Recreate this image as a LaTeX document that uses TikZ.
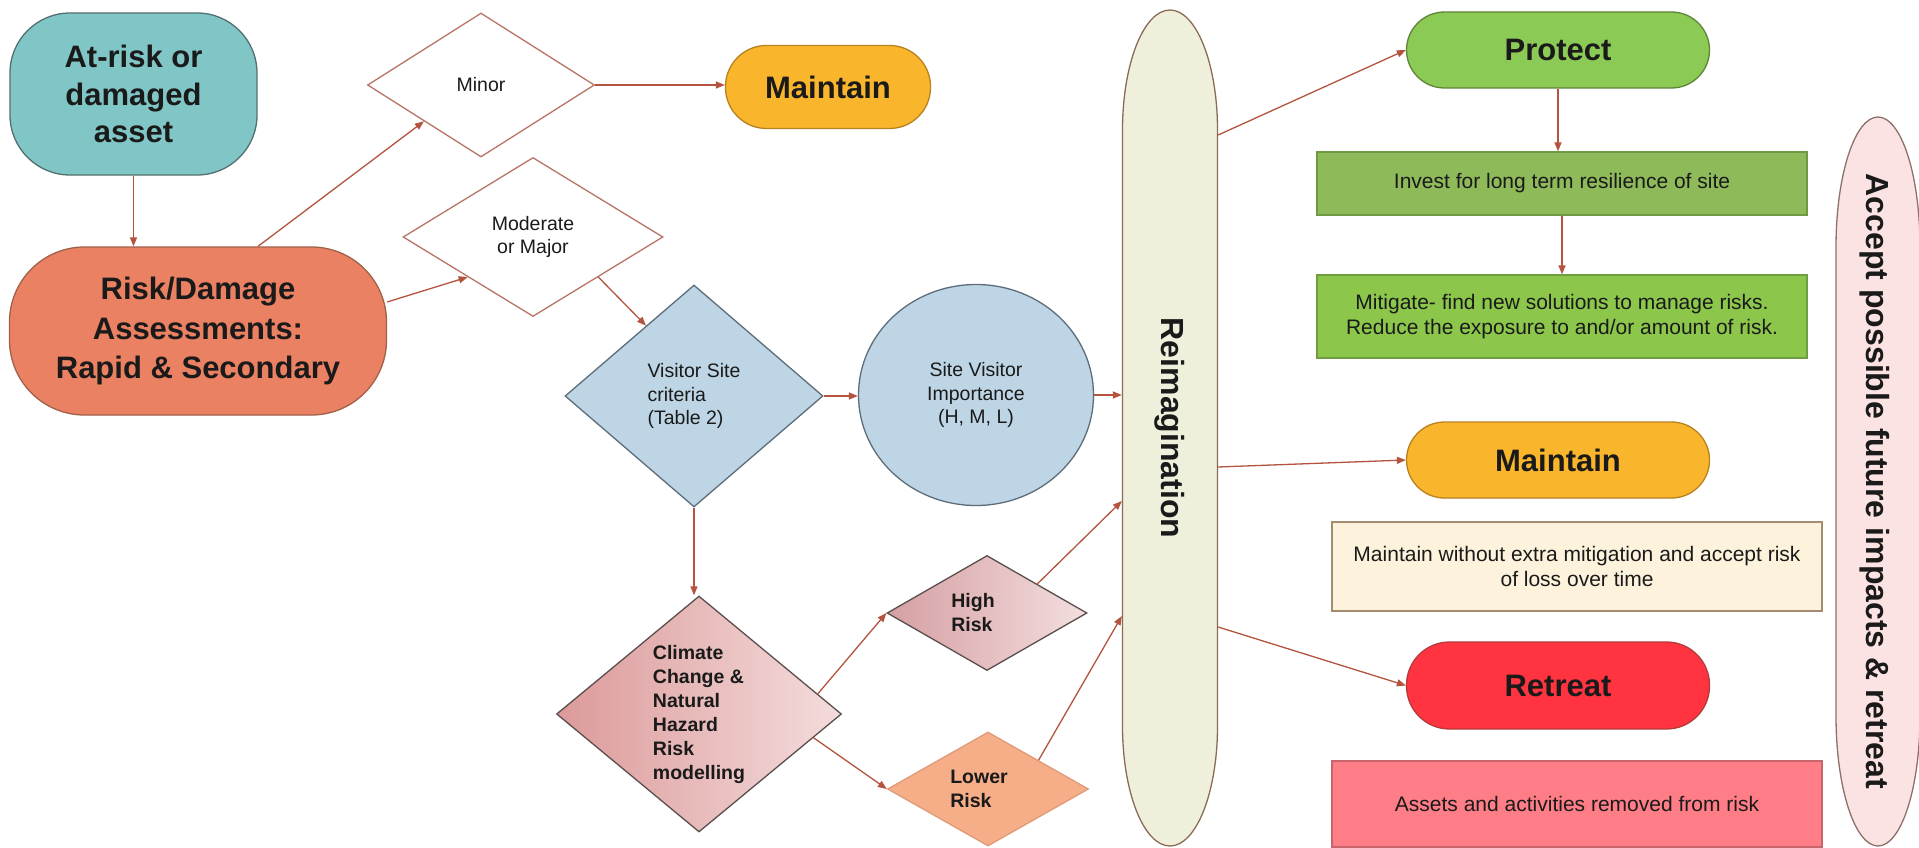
\documentclass[tikz,border=0pt]{standalone}
\usepackage{fontspec}
\setmainfont{Liberation Sans}
\usepackage{graphicx}
\usetikzlibrary{shapes.geometric,arrows.meta,calc}

\definecolor{arrowc}{HTML}{B4543E}
\definecolor{txt}{HTML}{1A1A1A}
\definecolor{cAsset}{HTML}{80C6C7}\definecolor{bAsset}{HTML}{52706F}
\definecolor{cRisk}{HTML}{EB8163}\definecolor{bRisk}{HTML}{A0604A}
\definecolor{bDia}{HTML}{B87565}
\definecolor{cMaint}{HTML}{F9B52B}\definecolor{bMaint}{HTML}{B78220}
\definecolor{cBlue}{HTML}{BDD5E4}\definecolor{bBlue}{HTML}{5D6D7A}
\definecolor{cClimL}{HTML}{DC9A9A}\definecolor{cClimR}{HTML}{F4DCDC}\definecolor{bClim}{HTML}{5A4E4E}
\definecolor{cHighL}{HTML}{D59FA3}\definecolor{cHighR}{HTML}{F3DEDE}
\definecolor{cLower}{HTML}{F5AE88}\definecolor{bLower}{HTML}{E09A78}
\definecolor{cReim}{HTML}{EEF0DB}\definecolor{bReim}{HTML}{8A6C55}
\definecolor{cProt}{HTML}{8CCA56}\definecolor{bProt}{HTML}{5F8438}
\definecolor{cInv}{HTML}{8FBA59}\definecolor{bInv}{HTML}{6F9A44}
\definecolor{cMit}{HTML}{8CC74C}\definecolor{bMit}{HTML}{6F9E40}
\definecolor{cKeep}{HTML}{FDF2DB}\definecolor{bKeep}{HTML}{A48C70}
\definecolor{cRet}{HTML}{FF3440}\definecolor{bRet}{HTML}{B53A3A}
\definecolor{cAss}{HTML}{FF7D86}\definecolor{bAss}{HTML}{C6656B}
\definecolor{cAcc}{HTML}{FCE3E3}\definecolor{bAcc}{HTML}{8E706A}

\newcommand{\bigbf}{\fontsize{31}{38}\selectfont\bfseries}
\newcommand{\smallrm}{\fontsize{19.5}{23.5}\selectfont}
\newcommand{\smallbf}{\fontsize{19.5}{24}\selectfont\bfseries}
\newcommand{\boxrm}{\fontsize{21}{25}\selectfont}
\newcommand{\sidebf}{\fontsize{32}{38}\selectfont\bfseries}

\tikzset{
  base/.style={inner sep=0pt, align=center, text=txt, line width=1.3pt},
  rbox/.style={base, rectangle, draw, font=\bigbf},
  dia/.style={base, diamond, draw},
  plainbox/.style={base, rectangle, draw, font=\boxrm},
  sideshape/.style={line width=1.3pt},
  arr/.style={draw=arrowc, line width=1.3pt, -{Triangle[length=9pt,width=7pt]}},
}

\begin{document}
\begin{tikzpicture}[x=1pt,y=1pt]
\useasboundingbox (0,0) rectangle (1919,-848);
\fill[white] (0,0) rectangle (1919,-848);

% left column
\node[rbox, fill=cAsset, draw=bAsset, rounded corners=60pt, minimum width=247pt, minimum height=162pt, font=\fontsize{31}{37.5}\selectfont\bfseries] (asset) at (133.5,-94) {At-risk or\\damaged\\asset};
\node[rbox, fill=cRisk, draw=bRisk, rounded corners=75pt, minimum width=377pt, minimum height=168pt, font=\fontsize{31}{39.5}\selectfont\bfseries] (risk) at (198,-331) {Risk/Damage\\Assessments:\\Rapid \& Secondary};

% decision diamonds
\node[dia, fill=white, draw=bDia, font=\smallrm, minimum width=227pt, minimum height=144pt, aspect=1.58] (minor) at (481,-85) {Minor};
\node[dia, fill=white, draw=bDia, font=\smallrm, minimum width=260pt, minimum height=159pt, aspect=1.64] (moderate) at (533,-237) {Moderate\\or Major};
\node[rbox, fill=cMaint, draw=bMaint, rounded corners=41pt, minimum width=205pt, minimum height=83pt] (maintA) at (828,-87) {Maintain};

\node[dia, fill=cBlue, draw=bBlue, font=\smallrm, align=left, minimum width=258pt, minimum height=222pt, aspect=1.16] (visitor) at (694,-396) {Visitor Site\\criteria\\(Table 2)};
\node[base, ellipse, fill=cBlue, draw=bBlue, font=\smallrm, minimum width=235pt, minimum height=221pt] (imp) at (976,-395) {Site Visitor\\Importance\\(H, M, L)};

\node[dia, left color=cClimL, right color=cClimR, draw=bClim, font=\smallbf, align=left, minimum width=285pt, minimum height=236pt, aspect=1.21] (climate) at (699,-714) {Climate\\Change \&\hspace*{8pt}\\Natural\\Hazard\\Risk\\modelling};
\node[dia, left color=cHighL, right color=cHighR, draw=bClim, font=\smallbf, align=left, minimum width=200pt, minimum height=115pt, aspect=1.74] (high) at (987,-613) {High\hspace*{28pt}\\Risk};
\node[dia, fill=cLower, draw=bLower, font=\smallbf, align=left, minimum width=201pt, minimum height=114pt, aspect=1.76] (lower) at (988,-789) {Lower\hspace*{18pt}\\Risk};

% Reimagination
\path[sideshape, draw=bReim, fill=cReim] (1170,-10) arc[start angle=90,end angle=180,x radius=47.5,y radius=120] -- (1122.5,-726) arc[start angle=180,end angle=360,x radius=47.5,y radius=120] -- (1217.5,-130) arc[start angle=0,end angle=90,x radius=47.5,y radius=120] -- cycle;
\node[base, minimum width=95pt, minimum height=836pt, font=\sidebf] (reim) at (1170,-428) {\rotatebox{-90}{Reimagination}};

% right column
\node[rbox, fill=cProt, draw=bProt, rounded corners=38pt, minimum width=303pt, minimum height=76pt] (protect) at (1558,-50) {Protect};
\node[plainbox, fill=cInv, draw=bInv, minimum width=490pt, minimum height=63pt] (invest) at (1562,-183.5) {Invest for long term resilience of site};
\node[plainbox, fill=cMit, draw=bMit, minimum width=490pt, minimum height=83pt] (mitigate) at (1562,-316.5) {Mitigate- find new solutions to manage risks.\\Reduce the exposure to and/or amount of risk.};
\node[rbox, fill=cMaint, draw=bMaint, rounded corners=38pt, minimum width=303pt, minimum height=76pt] (maintB) at (1558,-460) {Maintain};
\node[plainbox, fill=cKeep, draw=bKeep, minimum width=490pt, minimum height=89pt] (keep) at (1577,-566.5) {Maintain without extra mitigation and accept risk\\of loss over time};
\node[rbox, fill=cRet, draw=bRet, rounded corners=43pt, minimum width=303pt, minimum height=87pt] (retreat) at (1558,-685.5) {Retreat};
\node[plainbox, fill=cAss, draw=bAss, minimum width=490pt, minimum height=86pt] (assets) at (1577,-804) {Assets and activities removed from risk};

% Accept possible future impacts
\path[sideshape, draw=bAcc, fill=cAcc] (1878,-117) arc[start angle=90,end angle=180,x radius=42,y radius=130] -- (1836,-716) arc[start angle=180,end angle=360,x radius=42,y radius=130] -- (1920,-247) arc[start angle=0,end angle=90,x radius=42,y radius=130] -- cycle;
\node[base, minimum width=84pt, minimum height=729pt, font=\sidebf] (accept) at (1875,-481.5) {\rotatebox{-90}{Accept possible future impacts \& retreat}};

% connectors
\draw[arr] (asset.south) -- (asset.south |- risk.north);
\draw[arr] ([xshift=60pt]risk.north) -- (minor.south west);
\draw[arr] ([yshift=29pt]risk.east) -- (moderate.south west);
\draw[arr] (minor.east) -- (minor.east -| maintA.west);
\draw[arr] (moderate.south east) -- ($(visitor.north)!0.37!(visitor.west)$);
\draw[arr] (visitor.east) -- (visitor.east -| imp.west);
\draw[arr] (imp.east) -- (imp.east -| reim.west);
\draw[arr] (visitor.south) -- (visitor.south |- climate.north);
\draw[arr] ($(climate.north)!0.83!(climate.east)$) -- (high.west);
\draw[arr] ($(climate.east)!0.2!(climate.south)$) -- (lower.west);
\draw[arr] (high.north east) -- ([yshift=-73pt]reim.west);
\draw[arr] (lower.north east) -- ([yshift=-188pt]reim.west);
\draw[arr] ([yshift=293pt]reim.east) -- (protect.west);
\draw[arr] ([yshift=-39pt]reim.east) -- (maintB.west);
\draw[arr] ([yshift=-199pt]reim.east) -- (retreat.west);
\draw[arr] (protect.south) -- (protect.south |- invest.north);
\draw[arr] (invest.south) -- (invest.south |- mitigate.north);
\end{tikzpicture}
\end{document}
